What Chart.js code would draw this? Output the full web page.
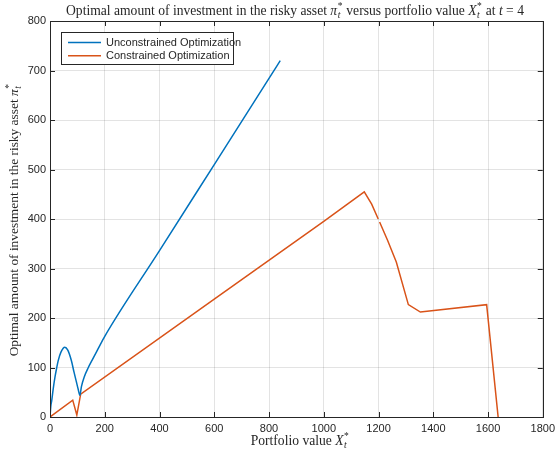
<!DOCTYPE html>
<html>
<head>
<meta charset="utf-8">
<script src="https://cdn.jsdelivr.net/npm/chart.js@4.4.0/dist/chart.umd.min.js"></script>
<style>
  html, body { margin: 0; padding: 0; background: #fff; }
</style>
</head>
<body>
<canvas id="grafica" width="560" height="455"></canvas>
<script>
// marcas de los ejes
var marcasX = [0, 200, 400, 600, 800, 1000, 1200, 1400, 1600, 1800];
var marcasY = [0, 100, 200, 300, 400, 500, 600, 700, 800];

// sin restricciones
var libreX = [0, 3, 6, 12, 18, 24, 30, 40, 54, 65, 78, 88, 96, 103, 109, 115, 125, 140, 154, 175, 199, 400, 600, 800, 841];
var libreY = [0, 22, 32, 58, 80, 98, 114, 131, 141, 135, 114, 90, 72, 56, 44, 62, 81, 100, 115, 137, 162, 336, 510, 684, 720];

// con restricciones (null = hueco en la curva)
var restX = [0, 83, 98, 112, 600, 1000, 1148, 1175, 1199, 1201, 1204, 1233, 1265, 1309, 1353, 1595, 1637];
var restY = [0, 34, 4, 46, 238, 395, 455, 430, 400, null, 394, 357, 313, 227, 212, 227, 0];

var nombres = ["Unconstrained Optimization", "Constrained Optimization"];
var colores = ["#0072BD", "#D95319"];

function puntos(xs, ys) {
    var arr = [];
    for (var i = 0; i < xs.length; i++) arr.push({x: xs[i], y: ys[i]});
    return arr;
}

var tinta = "#262626";
var serif = "'Liberation Serif', 'DejaVu Serif', serif";
var sans = "'Liberation Sans', Arial, sans-serif";

// texto con cursiva, superindice y subindice
function medirParte(ctx, p, tam) {
    if (p.sup !== undefined) {
        ctx.font = (tam * 0.7) + "px " + serif;
        var a = ctx.measureText(p.sup).width;
        ctx.font = "italic " + (tam * 0.7) + "px " + serif;
        var b = ctx.measureText(p.sub).width;
        return Math.max(a, b) + 1;
    }
    ctx.font = (p.i ? "italic " : "") + tam + "px " + serif;
    return ctx.measureText(p.t).width;
}

function textoRico(ctx, partes, cx, cy, tam, giro) {
    ctx.save();
    ctx.translate(cx, cy);
    if (giro) ctx.rotate(giro);
    var total = 0;
    var anchos = partes.map(function (p) { var w = medirParte(ctx, p, tam); total += w; return w; });
    var x = -total / 2;
    ctx.fillStyle = tinta;
    ctx.textBaseline = "alphabetic";
    ctx.textAlign = "left";
    var base = tam * 0.35;
    partes.forEach(function (p, k) {
        if (p.sup !== undefined) {
            ctx.font = (tam * 0.7) + "px " + serif;
            ctx.fillText(p.sup, x + 0.5, base - tam * 0.42);
            ctx.font = "italic " + (tam * 0.7) + "px " + serif;
            ctx.fillText(p.sub, x + 0.5, base + tam * 0.25);
        } else {
            ctx.font = (p.i ? "italic " : "") + tam + "px " + serif;
            ctx.fillText(p.t, x, base);
        }
        x += anchos[k];
    });
    ctx.restore();
}

var titulo = [
    {t: "Optimal amount of investment in the risky asset "}, {t: "\u03c0", i: true}, {sup: "*", sub: "t"},
    {t: " versus portfolio value "}, {t: "X", i: true}, {sup: "*", sub: "t"},
    {t: " at "}, {t: "t", i: true}, {t: " = 4"}
];
var tituloX = [{t: "Portfolio value "}, {t: "X", i: true}, {sup: "*", sub: "t"}];
var tituloY = [{t: "Optimal amount of investment in the risky asset "}, {t: "\u03c0", i: true}, {sup: "*", sub: "t"}];

// marco, marcas hacia dentro, leyenda y titulos
var adornos = {
    id: "adornos",
    afterDatasetsDraw: function (chart) {
        var ctx = chart.ctx, a = chart.chartArea;
        var sx = chart.scales.x, sy = chart.scales.y;
        ctx.save();
        ctx.strokeStyle = tinta;
        ctx.lineWidth = 1;
        ctx.beginPath();
        marcasX.forEach(function (v) {
            var px = Math.round(sx.getPixelForValue(v)) + 0.5;
            ctx.moveTo(px, a.bottom); ctx.lineTo(px, a.bottom - 5);
            ctx.moveTo(px, a.top); ctx.lineTo(px, a.top + 5);
        });
        marcasY.forEach(function (v) {
            var py = Math.round(sy.getPixelForValue(v)) + 0.5;
            ctx.moveTo(a.left, py); ctx.lineTo(a.left + 5, py);
            ctx.moveTo(a.right, py); ctx.lineTo(a.right - 5, py);
        });
        ctx.stroke();
        ctx.strokeRect(Math.round(a.left) + 0.5, Math.round(a.top) + 0.5,
                       Math.round(a.right - a.left), Math.round(a.bottom - a.top));

        // leyenda
        var lx = 61.5, ly = 32.5, lw = 172, lh = 32;
        ctx.fillStyle = "#fff";
        ctx.fillRect(lx, ly, lw, lh);
        ctx.strokeStyle = tinta;
        ctx.lineWidth = 1;
        ctx.strokeRect(lx, ly, lw, lh);
        ctx.font = "11px " + sans;
        ctx.textBaseline = "middle";
        ctx.textAlign = "left";
        chart.data.datasets.forEach(function (d, k) {
            var yy = ly + 10 + k * 13.3;
            ctx.strokeStyle = d.borderColor;
            ctx.lineWidth = 1.5;
            ctx.beginPath();
            ctx.moveTo(68, yy); ctx.lineTo(101, yy);
            ctx.stroke();
            ctx.fillStyle = tinta;
            ctx.fillText(d.label, 106, yy + 0.5);
        });
        ctx.restore();

        textoRico(ctx, titulo, 295, 10, 13.6);
        textoRico(ctx, tituloX, 300, 440, 13.6);
        textoRico(ctx, tituloY, 13, 220, 13.4, -Math.PI / 2);
    }
};

var grafica = document.getElementById("grafica").getContext("2d");
var chart = new Chart(grafica, {
    type: "scatter",
    data: {
        datasets: [{
            label: nombres[0],
            data: puntos(libreX, libreY),
            borderColor: colores[0],
            borderWidth: 1.5,
            showLine: true,
            pointRadius: 0,
            cubicInterpolationMode: "monotone",
            spanGaps: false
        }, {
            label: nombres[1],
            data: puntos(restX, restY),
            borderColor: colores[1],
            borderWidth: 1.5,
            showLine: true,
            pointRadius: 0,
            tension: 0,
            spanGaps: false
        }]
    },
    options: {
        responsive: false,
        animation: false,
        layout: { padding: { top: 21, right: 10, left: 0, bottom: 0 } },
        plugins: {
            legend: { display: false },
            title: { display: false },
            tooltip: { enabled: false }
        },
        scales: {
            x: {
                type: "linear",
                min: 0, max: 1800,
                afterBuildTicks: function (s) { s.ticks = marcasX.map(function (v) { return {value: v}; }); },
                afterFit: function (s) { s.height = 38; },
                grid: { color: "rgba(38,38,38,0.13)", drawTicks: false },
                border: { display: false },
                ticks: { color: tinta, padding: 5, maxRotation: 0, font: { family: sans, size: 11 },
                         callback: function (v) { return String(v); } }
            },
            y: {
                type: "linear",
                min: 0, max: 800,
                afterBuildTicks: function (s) { s.ticks = marcasY.map(function (v) { return {value: v}; }); },
                afterFit: function (s) { s.width = 50; },
                grid: { color: "rgba(38,38,38,0.13)", drawTicks: false },
                border: { display: false },
                ticks: { color: tinta, padding: 4, font: { family: sans, size: 11 },
                         callback: function (v) { return String(v); } }
            }
        }
    },
    plugins: [adornos]
});
</script>
</body>
</html>
